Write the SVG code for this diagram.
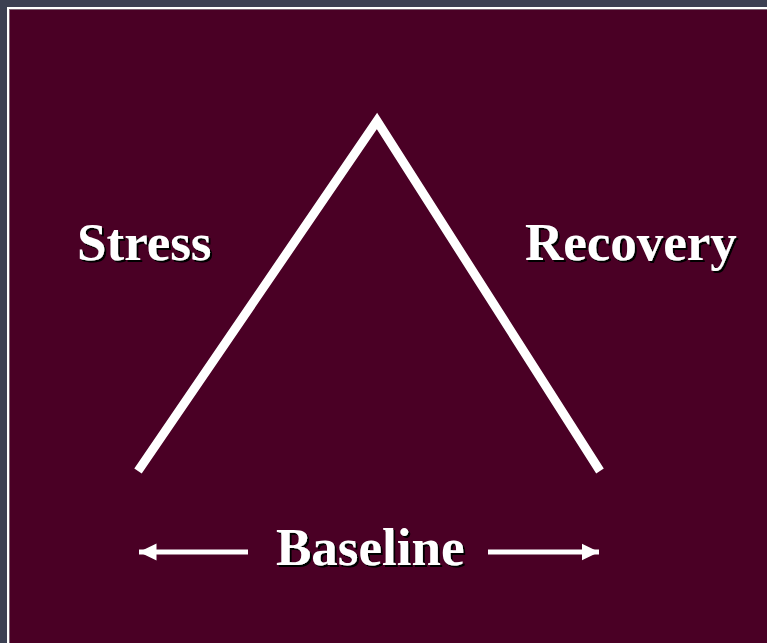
<svg xmlns="http://www.w3.org/2000/svg" width="767" height="643" viewBox="0 0 767 643">
<style>
.lbl{font-family:"Liberation Serif","Times New Roman",serif;font-weight:bold;font-size:53px;fill:#ffffff;filter:url(#shadow)}
.ln{stroke:#ffffff;fill:none}
</style>
<defs>
<filter id="shadow" x="-10%" y="-20%" width="130%" height="150%">
<feOffset in="SourceAlpha" dx="2" dy="2" result="off"/>
<feFlood flood-color="#000000"/>
<feComposite in2="off" operator="in" result="sh"/>
<feMerge><feMergeNode in="sh"/><feMergeNode in="SourceGraphic"/></feMerge>
</filter>
<marker id="ah" markerWidth="4" markerHeight="4" refX="3.5" refY="2" orient="auto" markerUnits="strokeWidth">
<path d="M0,0.3 L3.5,2 L0,3.7 Z" fill="#ffffff"/>
</marker>
</defs>
<rect x="0" y="0" width="767" height="643" fill="#3c4052"/>
<rect x="7" y="7" width="760" height="636" fill="#ffffff"/>
<rect x="9" y="9" width="758" height="634" fill="#7a6070"/>
<rect x="10" y="10" width="757" height="633" fill="#4a0025"/>
<g id="triangle">
<polyline class="ln" points="138,471 377,121 600,471" stroke-width="9" stroke-linejoin="miter"/>
</g>
<g id="stress">
<text class="lbl" x="77" y="260">Stress</text>
</g>
<g id="recovery">
<text class="lbl" x="525" y="260">Recovery</text>
</g>
<g id="baseline">
<text class="lbl" x="276" y="565">Baseline</text>
</g>
<g id="connectors">
<line class="ln" x1="248" y1="552" x2="139" y2="552" stroke-width="5" marker-end="url(#ah)"/>
<line class="ln" x1="488" y1="552" x2="599" y2="552" stroke-width="5" marker-end="url(#ah)"/>
</g>
</svg>
